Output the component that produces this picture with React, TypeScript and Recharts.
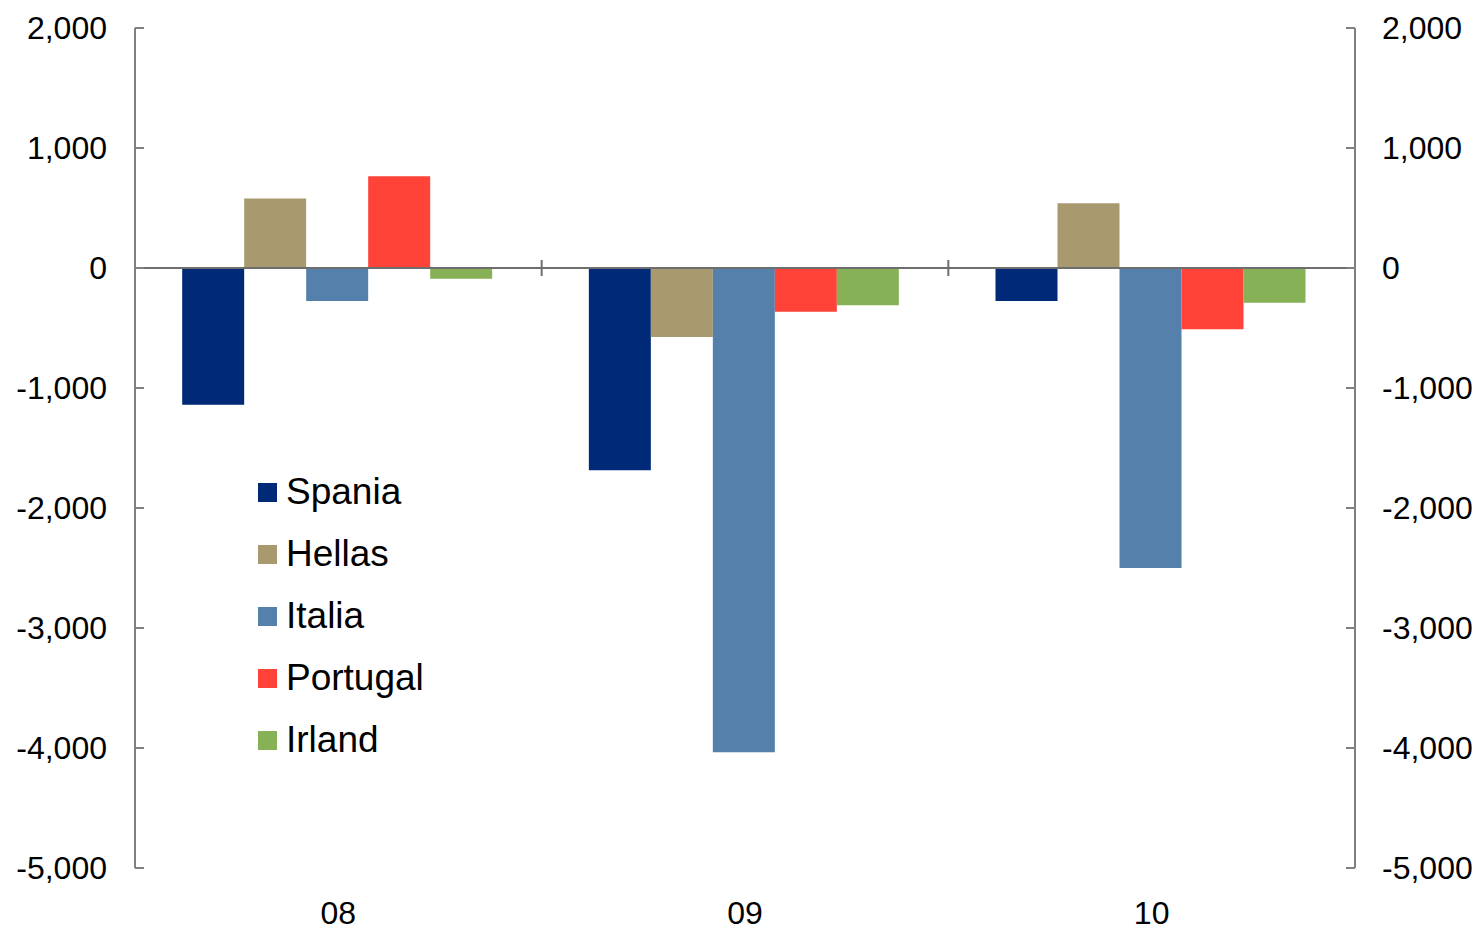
import React from 'react';
import {
  BarChart,
  Bar,
  Line,
  XAxis,
  YAxis,
  Legend,
  ReferenceLine
} from 'recharts';

const years = ['08', '09', '10'];
const spania = [-1140, -1685, -275];
const hellas = [580, -575, 540];
const italia = [-275, -4035, -2500];
const portugal = [765, -365, -510];
const irland = [-90, -310, -290];
const yTicks = [2000, 1000, 0, -1000, -2000, -3000, -4000, -5000];

const series = [
  { key: 'Spania', values: spania, color: '#002A78' },
  { key: 'Hellas', values: hellas, color: '#A89A6E' },
  { key: 'Italia', values: italia, color: '#5580AC' },
  { key: 'Portugal', values: portugal, color: '#FF4338' },
  { key: 'Irland', values: irland, color: '#87B156' }
];

const chartData = years.map((year, i) => {
  const row: Record<string, string | number> = { year };
  series.forEach(s => {
    row[s.key] = s.values[i];
  });
  return row;
});

const font = '"Liberation Sans", Arial, sans-serif';
const fmt = (v: number) => v.toLocaleString('en-US');
const axisGrey = '#808080';
const zeroGrey = '#6e6e6e';

// zero line with small ticks at the category boundaries
const ZeroLine = (props: any) => {
  const { x1, x2, y1 } = props;
  if (x1 == null || x2 == null || y1 == null) return null;
  const step = (x2 - x1) / years.length;
  const marks = [];
  for (let i = 0; i <= years.length; i++) {
    const x = x1 + step * i;
    marks.push(
      <line key={i} x1={x} x2={x} y1={y1 - 8} y2={y1 + 8} stroke={zeroGrey} strokeWidth={2} />
    );
  }
  return (
    <g>
      <line x1={x1} x2={x2} y1={y1} y2={y1} stroke={zeroGrey} strokeWidth={2} />
      {marks}
    </g>
  );
};

const LegendBox = () => (
  <div style={{ fontFamily: font }}>
    {series.map(s => (
      <div
        key={s.key}
        style={{ display: 'flex', alignItems: 'center', height: 62 }}
      >
        <span
          style={{
            width: 19,
            height: 19,
            background: s.color,
            marginRight: 9,
            display: 'inline-block'
          }}
        />
        <span style={{ fontSize: 37, color: '#000', lineHeight: '62px' }}>
          {s.key}
        </span>
      </div>
    ))}
  </div>
);

const App: React.FC = () => {
  return (
    <div style={{ position: 'absolute', left: 0, top: 0, width: 1477, height: 930, background: '#fff' }}>
      <BarChart
        width={1477}
        height={930}
        data={chartData}
        margin={{ top: 28, right: 0, left: 0, bottom: 0 }}
        barGap={0}
        barCategoryGap="11.6%"
      >
        <XAxis
          dataKey="year"
          axisLine={false}
          tickLine={false}
          tickSize={0}
          tickMargin={33}
          height={62}
          tick={{ fontSize: 32, fill: '#000', fontFamily: font }}
        />
        <YAxis
          yAxisId="l"
          domain={[-5000, 2000]}
          ticks={yTicks}
          width={135}
          tickFormatter={fmt}
          stroke={axisGrey}
          strokeWidth={2}
          tickSize={-9}
          tickMargin={37}
          tick={{ fontSize: 32, fill: '#000', fontFamily: font }}
          interval={0}
        />
        <YAxis
          yAxisId="r"
          orientation="right"
          domain={[-5000, 2000]}
          allowDataOverflow
          ticks={yTicks}
          width={122}
          tickFormatter={fmt}
          stroke={axisGrey}
          strokeWidth={2}
          tickSize={-9}
          tickMargin={36}
          tick={{ fontSize: 32, fill: '#000', fontFamily: font }}
          interval={0}
        />
        <Legend
          layout="vertical"
          align="center"
          verticalAlign="middle"
          wrapperStyle={{ left: 258, top: 461, width: 'auto' }}
          content={() => <LegendBox />}
        />
        {series.map(s => (
          <Bar
            key={s.key}
            yAxisId="l"
            dataKey={s.key}
            fill={s.color}
            isAnimationActive={false}
          />
        ))}
        {/* invisible series so the right axis gets its scale */}
        <Line
          yAxisId="r"
          dataKey="Spania"
          stroke="none"
          dot={false}
          activeDot={false}
          legendType="none"
          isAnimationActive={false}
        />
        <ReferenceLine yAxisId="l" y={0} shape={ZeroLine} />
      </BarChart>
    </div>
  );
};

export default App;
